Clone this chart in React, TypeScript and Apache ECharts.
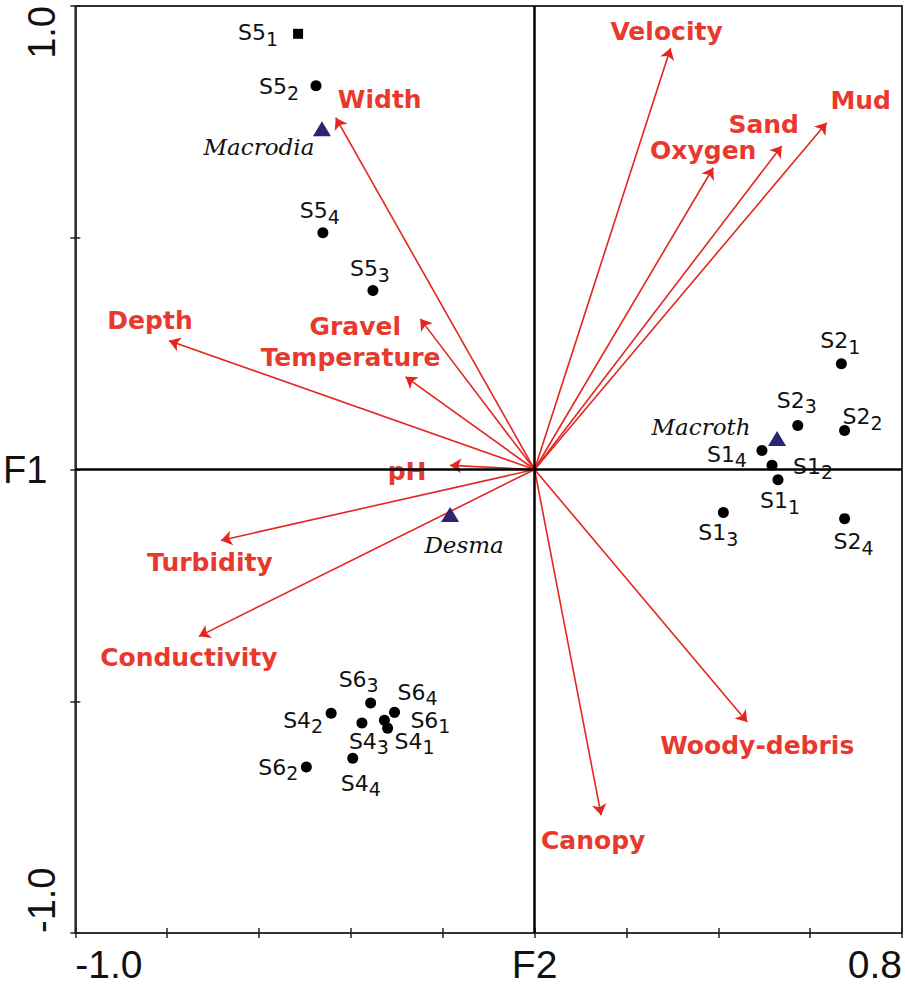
import React, { useEffect, useRef } from "react";
import * as echarts from "echarts";

// ---- Data ----
const envNames = ["Velocity", "Mud", "Sand", "Oxygen", "Width", "Depth", "Gravel", "Temperature", "pH", "Turbidity", "Conductivity", "Woody-debris", "Canopy"];
const envF2 = [0.296, 0.636, 0.538, 0.389, -0.433, -0.796, -0.249, -0.281, -0.184, -0.683, -0.731, 0.463, 0.145];
const envF1 = [0.909, 0.748, 0.698, 0.651, 0.759, 0.278, 0.325, 0.2, 0.009, -0.153, -0.36, -0.545, -0.746];

const siteCodes = ["S5", "S5", "S5", "S5", "S2", "S2", "S2", "S1", "S1", "S1", "S1", "S2", "S6", "S6", "S6", "S4", "S4", "S4", "S4", "S6"];
const siteSubs = ["1", "2", "4", "3", "1", "3", "2", "4", "2", "1", "3", "4", "3", "4", "1", "1", "3", "2", "4", "2"];
const siteF2 = [-0.515, -0.476, -0.461, -0.352, 0.668, 0.573, 0.675, 0.495, 0.517, 0.53, 0.411, 0.675, -0.357, -0.305, -0.327, -0.32, -0.376, -0.443, -0.396, -0.497];
const siteF1 = [0.94, 0.828, 0.511, 0.386, 0.228, 0.095, 0.084, 0.041, 0.009, -0.022, -0.093, -0.106, -0.504, -0.524, -0.541, -0.558, -0.547, -0.526, -0.623, -0.642];

const speciesNames = ["Macrodia", "Macroth", "Desma"];
const speciesF2 = [-0.463, 0.528, -0.184];
const speciesF1 = [0.735, 0.067, -0.097];

const xLabelValues = [-1, 0, 0.8];
const xLabelTexts = ["-1.0", "F2", "0.8"];
const yLabelValues = [-1, 0, 1];
const yLabelTexts = ["-1.0", "F1", "1.0"];

// ---- Styles / label placement (pixels) ----
const RED = "#e3261f";
const RED_TEXT = "#e8392f";
const NAVY = "#2b2470";
const envLabelOffsets: number[][] = [
  [-4, -17], [34, -22], [-18, -21], [-10, -17], [44, -18], [-19, -20], [-65, 8],
  [-55, -19], [-43, 6], [-11, 22], [-10, 21], [10, 23], [-8, 25],
];
const siteLabelOffsets: number[][] = [
  [-40, -1], [-37, 1], [-3, -22], [-3, -22], [-1, -23], [-1, -25], [18, -14],
  [-35, 4], [41, 1], [2, 21], [-5, 20], [9, 23], [-12, -24], [23, -20],
  [46, 0], [27, 13], [7, 18], [-28, 7], [8, 25], [-28, 0],
];
const speciesLabelOffsets: number[][] = [[-63, 18], [-76, -11], [14, 31]];

function pickLabel(values: number[], texts: string[]) {
  return (v: number) => {
    for (let i = 0; i < values.length; i++) {
      if (Math.abs(v - values[i]) < 1e-6) return texts[i];
    }
    return "";
  };
}

export default function App() {
  const ref = useRef<HTMLDivElement>(null);

  useEffect(() => {
    if (!ref.current) return;
    const chart = echarts.init(ref.current, undefined, { renderer: "svg" });

    const axisColor = "#222";
    const option: any = {
      animation: false,
      backgroundColor: "#ffffff",
      textStyle: { fontFamily: "Liberation Sans, Arial, sans-serif" },
      grid: {
        left: 75,
        top: 6,
        width: 833,
        height: 927,
        show: true,
        borderColor: "#333",
        borderWidth: 2,
        backgroundColor: "transparent",
      },
      xAxis: [
        {
          type: "value",
          min: -1,
          max: 0.8,
          interval: 0.2,
          splitLine: { show: false },
          axisLine: { show: true, onZero: false, lineStyle: { color: "#333", width: 2 } },
          axisTick: { show: true, length: 5, inside: false, lineStyle: { color: axisColor, width: 1.5 } },
          axisLabel: {
            show: true,
            formatter: pickLabel(xLabelValues, xLabelTexts),
            fontSize: 39,
            color: "#111",
            margin: 12,
            alignMinLabel: "left",
            alignMaxLabel: "right",
            showMinLabel: true,
            showMaxLabel: true,
          },
        },
        {
          type: "value",
          min: -1,
          max: 0.8,
          interval: 0.2,
          position: "bottom",
          splitLine: { show: false },
          axisLine: { show: false, onZero: false },
          axisLabel: { show: false },
          axisTick: { show: true, length: 5, inside: true, lineStyle: { color: axisColor, width: 1.5 } },
        },
      ],
      yAxis: [
        {
          type: "value",
          min: -1,
          max: 1,
          interval: 0.5,
          splitLine: { show: false },
          axisLine: { show: true, onZero: false, lineStyle: { color: "#333", width: 2 } },
          axisTick: { show: true, length: 5, lineStyle: { color: axisColor, width: 1.5 } },
          axisLabel: {
            show: true,
            formatter: (v: number) => (Math.abs(v) < 1e-6 ? pickLabel(yLabelValues, yLabelTexts)(v) : ""),
            fontSize: 38,
            color: "#111",
            margin: 28,
          },
        },
        {
          type: "value",
          min: -1,
          max: 1,
          interval: 0.5,
          position: "left",
          splitLine: { show: false },
          axisLine: { show: false, onZero: false },
          axisTick: { show: true, length: 5, inside: true, lineStyle: { color: axisColor, width: 1.5 } },
          axisLabel: {
            show: true,
            rotate: 90,
            formatter: (v: number) => (Math.abs(v) > 0.99 ? pickLabel(yLabelValues, yLabelTexts)(v) : ""),
            fontSize: 38,
            color: "#111",
            margin: 14,
            alignMinLabel: "left",
            alignMaxLabel: "right",
            showMinLabel: true,
            showMaxLabel: true,
          },
        },
      ],
      series: [
        {
          type: "lines",
          coordinateSystem: "cartesian2d",
          symbol: ["none", "arrow"],
          symbolSize: 11,
          lineStyle: { color: RED, width: 1.6, opacity: 1, curveness: 0 },
          silent: true,
          z: 3,
          data: envNames.map((n, i) => ({ name: n, coords: [[0, 0], [envF2[i], envF1[i]]] })),
          markLine: {
            silent: true,
            symbol: ["none", "none"],
            label: { show: false },
            lineStyle: { color: "#000", width: 2.5, type: "solid", opacity: 1 },
            data: [{ xAxis: 0 }, { yAxis: 0 }],
          },
        },
        {
          type: "scatter",
          name: "env-labels",
          symbolSize: 1,
          itemStyle: { color: "transparent", opacity: 1 },
          silent: true,
          z: 4,
          data: envNames.map((n, i) => ({
            name: n,
            value: [envF2[i], envF1[i]],
            label: {
              show: true,
              position: "inside",
              offset: envLabelOffsets[i],
              formatter: n,
              fontFamily: "DejaVu Sans, sans-serif",
              fontWeight: "bold",
              fontSize: 25,
              color: RED_TEXT,
            },
          })),
        },
        {
          type: "scatter",
          name: "sites",
          z: 5,
          silent: true,
          itemStyle: { color: "#000", opacity: 1 },
          data: siteCodes.map((c, i) => ({
            name: c + siteSubs[i],
            value: [siteF2[i], siteF1[i]],
            symbol: i === 0 ? "rect" : "circle",
            symbolSize: i === 0 ? 10 : 11,
            label: {
              show: true,
              position: "inside",
              offset: siteLabelOffsets[i],
              formatter: `{m|${c}}{s|${siteSubs[i]}}`,
              rich: {
                m: { fontFamily: "DejaVu Sans, sans-serif", fontSize: 22, color: "#111" },
                s: { fontFamily: "DejaVu Sans, sans-serif", fontSize: 19, color: "#111", padding: [12, 0, 0, 0] },
              },
            },
          })),
        },
        {
          type: "scatter",
          name: "species",
          z: 6,
          silent: true,
          symbol: "triangle",
          symbolSize: [18, 15],
          itemStyle: { color: NAVY, opacity: 1 },
          data: speciesNames.map((n, i) => ({
            name: n,
            value: [speciesF2[i], speciesF1[i]],
            label: {
              show: true,
              position: "inside",
              offset: speciesLabelOffsets[i],
              formatter: n,
              fontFamily: "DejaVu Serif, serif",
              fontStyle: "italic",
              fontSize: 23,
              color: "#111",
            },
          })),
        },
      ],
    };

    chart.setOption(option);
    return () => chart.dispose();
  }, []);

  return (
    <div
      ref={ref}
      style={{ position: "absolute", left: 0, top: 0, width: 905, height: 988, background: "#fff" }}
    />
  );
}
